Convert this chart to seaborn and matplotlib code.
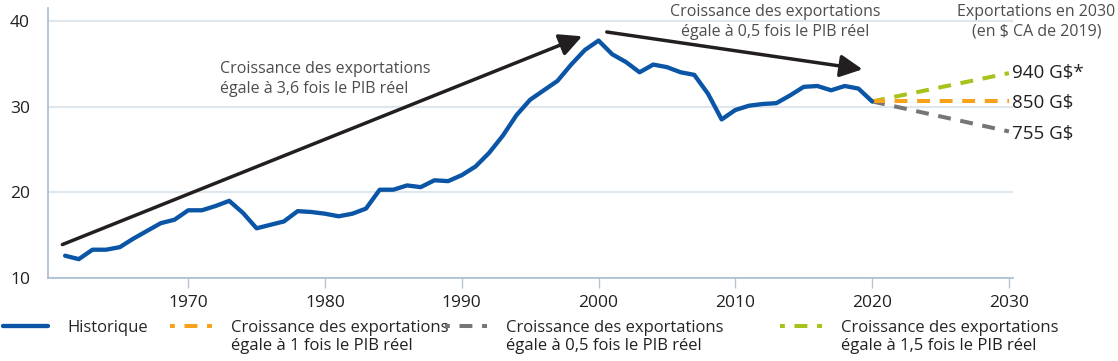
import numpy as np
import pandas as pd
import matplotlib
matplotlib.use('Agg')
import matplotlib.pyplot as plt
from matplotlib.lines import Line2D
import seaborn as sns

# exportations (centaines de G$ CA de 2019)
years = list(range(1961, 2021))
exports = [12.6, 12.2, 13.3, 13.3, 13.6, 14.6, 15.5, 16.4, 16.8, 17.9,
           17.9, 18.4, 19.0, 17.6, 15.8, 16.2, 16.6, 17.8, 17.7, 17.5,
           17.2, 17.5, 18.1, 20.3, 20.3, 20.8, 20.6, 21.4, 21.3, 22.0,
           23.0, 24.6, 26.6, 29.0, 30.8, 31.9, 33.0, 34.9, 36.6, 37.7,
           36.1, 35.2, 34.0, 34.9, 34.6, 34.0, 33.7, 31.5, 28.5, 29.6,
           30.1, 30.3, 30.4, 31.3, 32.3, 32.4, 31.9, 32.4, 32.1, 30.6]

proj_years = [2020, 2030]
proj_1x = [30.6, 30.6]
proj_05x = [30.6, 27.1]
proj_15x = [30.6, 33.9]

proj_labels = ['940 G$*', '850 G$', '755 G$']
proj_label_y = [33.9, 30.4, 26.8]

legend_first = ['Historique', 'Croissance des exportations',
                'Croissance des exportations', 'Croissance des exportations']
legend_second = ['', 'égale à 1 fois le PIB réel', 'égale à 0,5 fois le PIB réel',
                 'égale à 1,5 fois le PIB réel']
legend_x = [3, 170, 445, 780]

# fleches : (annee, valeur) debut -> fin
arrow1 = [(1960.8, 13.9), (1998.8, 38.2)]
arrow2 = [(2000.6, 38.7), (2019.3, 34.35)]

blue = '#0a55a6'
orange = '#f7a21b'
grey = '#767676'
green = '#a8c21a'
dark = '#231f20'

sns.set_style('white')
plt.rcParams['font.family'] = ['Open Sans', 'DejaVu Sans']

df_hist = pd.DataFrame({'annee': years, 'valeur': exports})
df_proj = pd.DataFrame({'annee': proj_years * 3,
                        'valeur': proj_1x + proj_05x + proj_15x,
                        'serie': ['1x'] * 2 + ['0.5x'] * 2 + ['1.5x'] * 2})

fig = plt.figure(figsize=(11.18, 3.61), dpi=100)
ax = fig.add_axes([48 / 1118, 1 - 278 / 361, (1013 - 48) / 1118, (278 - 8) / 361])

dash = (0, (3.2, 2.4))
proj_lw = 2.9
sns.lineplot(data=df_proj[df_proj.serie == '0.5x'], x='annee', y='valeur', ax=ax,
             color=grey, linewidth=proj_lw, linestyle=dash)
sns.lineplot(data=df_proj[df_proj.serie == '1.5x'], x='annee', y='valeur', ax=ax,
             color=green, linewidth=proj_lw, linestyle=dash)
sns.lineplot(data=df_proj[df_proj.serie == '1x'], x='annee', y='valeur', ax=ax,
             color=orange, linewidth=proj_lw, linestyle=dash)
sns.lineplot(data=df_hist, x='annee', y='valeur', ax=ax, color=blue, linewidth=3.1)

ax.set_xlim(1959.75, 2030.3)
ax.set_ylim(10, 41.5)
ax.set_xticks([1970, 1980, 1990, 2000, 2010, 2020, 2030])
ax.set_yticks([10, 20, 30, 40])
ax.set_xlabel('')
ax.set_ylabel('')
ax.yaxis.grid(True, color='#dfe7ee', linewidth=1.5)
ax.set_axisbelow(True)
for s in ['top', 'right']:
    ax.spines[s].set_visible(False)
for s in ['left', 'bottom']:
    ax.spines[s].set_color('#a9bccf')
    ax.spines[s].set_linewidth(1.2)
ax.tick_params(axis='x', length=7, width=1, color='#b8c4d0', labelsize=12.5,
               labelcolor=dark, pad=5, direction='out', bottom=True)
ax.tick_params(axis='y', length=0, labelsize=12.5, labelcolor=dark, pad=13)

for a in [arrow1, arrow2]:
    ax.annotate('', xy=a[1], xytext=a[0],
                arrowprops=dict(arrowstyle='-|>,head_length=0.9,head_width=0.45',
                                color=dark, lw=2.5, mutation_scale=15,
                                shrinkA=0, shrinkB=0))

ax.text(1972.3, 35.3, 'Croissance des exportations\négale à 3,6 fois le PIB réel',
        ha='left', va='top', fontsize=11.5, color='#4d4d4d', linespacing=1.3)
ax.text(2012.9, 41.95, 'Croissance des exportations\négale à 0,5 fois le PIB réel',
        ha='center', va='top', fontsize=11.5, color='#4d4d4d', linespacing=1.3)
ax.text(2032.0, 41.95, 'Exportations en 2030\n(en $ CA de 2019)',
        ha='center', va='top', fontsize=11.5, color='#4d4d4d', linespacing=1.3)
for lab, y in zip(proj_labels, proj_label_y):
    ax.text(2030.2, y, lab, ha='left', va='center', fontsize=13.5, color=dark)

handles = [Line2D([], [], color=blue, linewidth=3.1),
           Line2D([], [], color=orange, linewidth=proj_lw, linestyle=(2.0, (3.2, 2.4))),
           Line2D([], [], color=grey, linewidth=proj_lw, linestyle=(2.0, (3.2, 2.4))),
           Line2D([], [], color=green, linewidth=proj_lw, linestyle=(2.0, (3.2, 2.4)))]
legs = []
for h, lab, x in zip(handles, legend_first, legend_x):
    hl = 2.7 if lab == 'Historique' else 2.5
    leg = fig.legend([h], [lab], loc='center left',
                     bbox_to_anchor=(x / 1118, 1 - 328 / 361), frameon=False,
                     fontsize=12, handlelength=hl, handletextpad=1.15,
                     borderpad=0, borderaxespad=0)
    legs.append(leg)

fig.canvas.draw()
inv = fig.transFigure.inverted()
for leg, second in zip(legs, legend_second):
    if not second:
        continue
    t = leg.get_texts()[0]
    bb = t.get_window_extent()
    x0, y0 = inv.transform((bb.x0, bb.y0))
    fig.text(x0, y0 - 2 / 361, second, ha='left', va='top', fontsize=12, color=dark)

fig.savefig('out.png', dpi=100)
